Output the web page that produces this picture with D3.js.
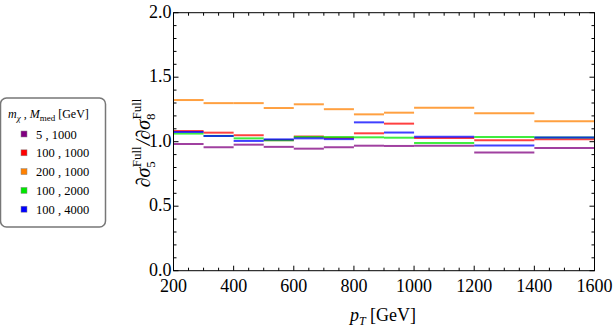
<!DOCTYPE html>
<html><head><meta charset="utf-8">
<script src="https://cdn.jsdelivr.net/npm/d3@7/dist/d3.min.js"></script>
<style>body{margin:0;background:#fff}svg{display:block}
text{font-family:"Liberation Serif","DejaVu Serif","Times New Roman",serif;}</style>
</head><body>
<script>
const binEdges = [200,300,400,500,600,700,800,900,1000,1200,1400,1600];
const seriesNames = ["5 , 1000","100 , 1000","200 , 1000","100 , 2000","100 , 4000"];
const seriesColors = ["#800080","#ff0000","#ff8000","#00e600","#0000ff"];
const purpleVals = [0.982,0.957,0.977,0.960,0.946,0.957,0.969,0.967,0.969,0.916,0.952];
const redVals    = [1.083,1.070,1.050,1.012,1.040,1.030,1.065,1.140,1.028,1.012,1.019];
const orangeVals = [1.323,1.299,1.299,1.261,1.290,1.252,1.212,1.225,1.264,1.220,1.158];
const greenVals  = [1.063,1.045,1.026,1.011,1.037,1.036,1.034,1.031,0.990,1.037,1.032];
const blueVals   = [1.075,1.044,1.006,1.018,1.026,1.020,1.150,1.071,1.039,0.970,1.032];
const seriesVals = [purpleVals,redVals,orangeVals,greenVals,blueVals];
const xTicks = [200,400,600,800,1000,1200,1400,1600];
const yTicks = [0,0.5,1,1.5,2];

const W=615,H=327;
const svg=d3.select("body").append("svg").attr("width",W).attr("height",H);
const L=173.5,R=594.5,T=12.7,B=270.7;
const x=d3.scaleLinear().domain([200,1600]).range([L,R]);
const y=d3.scaleLinear().domain([0,2]).range([B,T]);

seriesVals.forEach((vals,si)=>{
  const g=svg.append("g");
  vals.forEach((v,i)=>{
    g.append("line").attr("x1",x(binEdges[i])).attr("x2",x(binEdges[i+1]))
      .attr("y1",y(v)).attr("y2",y(v))
      .attr("stroke",seriesColors[si]).attr("stroke-width",2).attr("stroke-opacity",0.75);
  });
});

svg.append("rect").attr("x",L).attr("y",T).attr("width",R-L).attr("height",B-T)
  .attr("fill","none").attr("stroke","#000").attr("stroke-width",1);

const tk=svg.append("g").attr("stroke","#000").attr("stroke-width",1);
d3.range(200,1601,50).forEach(v=>{
  const major=v%200===0, len=major?5:3;
  tk.append("line").attr("x1",x(v)).attr("x2",x(v)).attr("y1",B).attr("y2",B-len);
  tk.append("line").attr("x1",x(v)).attr("x2",x(v)).attr("y1",T).attr("y2",T+len);
});
d3.range(0,21,1).forEach(k=>{
  const v=k/10, major=k%5===0, len=major?5:3;
  tk.append("line").attr("y1",y(v)).attr("y2",y(v)).attr("x1",L).attr("x2",L+len);
  tk.append("line").attr("y1",y(v)).attr("y2",y(v)).attr("x1",R).attr("x2",R-len);
});

svg.append("g").selectAll("text").data(xTicks).join("text")
  .attr("x",d=>x(d)).attr("y",292).attr("text-anchor","middle")
  .attr("font-size",18).text(d=>d);
svg.append("g").selectAll("text").data(yTicks).join("text")
  .attr("x",L-2).attr("y",d=>y(d)+5).attr("text-anchor","end")
  .attr("font-size",18).text(d=>d.toFixed(1));

const xt=svg.append("text").attr("x",383).attr("y",321).attr("text-anchor","middle").attr("font-size",18);
xt.append("tspan").attr("font-style","italic").text("p");
xt.append("tspan").attr("font-style","italic").attr("font-size",12).attr("dy",4).text("T");
xt.append("tspan").attr("dy",-4).text("  [GeV]");

const yg=svg.append("g").attr("transform","translate(150,143) rotate(-90)");
const yt=yg.append("text").attr("text-anchor","middle").attr("font-size",20);
yt.append("tspan").attr("font-style","italic").text("∂σ");
yt.append("tspan").attr("font-size",13).attr("dy",5).text("5");
yt.append("tspan").attr("font-size",13).attr("dy",-14).attr("dx",-6).text("Full");
yt.append("tspan").attr("dy",9).attr("dx",1).attr("font-style","italic").text("/∂σ");
yt.append("tspan").attr("font-size",13).attr("dy",5).text("8");
yt.append("tspan").attr("font-size",13).attr("dy",-14).attr("dx",-6).text("Full");

const lg=svg.append("g");
lg.append("rect").attr("x",0.5).attr("y",98).attr("width",105).attr("height",129).attr("rx",6)
  .attr("fill","#fff").attr("stroke","#777").attr("stroke-width",1.5);
const lt=lg.append("text").attr("x",8).attr("y",118).attr("font-size",12);
lt.append("tspan").attr("font-style","italic").text("m");
lt.append("tspan").attr("font-style","italic").attr("font-size",9).attr("dy",3).text("χ");
lt.append("tspan").attr("dy",-3).text(" , ");
lt.append("tspan").attr("font-style","italic").text("M");
lt.append("tspan").attr("font-size",9).attr("dy",3).text("med");
lt.append("tspan").attr("dy",-3).text(" [GeV]");
seriesNames.forEach((n,i)=>{
  const cy=134+i*18.8;
  lg.append("rect").attr("x",21).attr("y",cy-3).attr("width",6).attr("height",6)
    .attr("fill",seriesColors[i]).attr("stroke","#888").attr("stroke-width",0.5);
  lg.append("text").attr("x",36).attr("y",cy+4.5).attr("font-size",12.5).text(n);
});
</script>
</body></html>
